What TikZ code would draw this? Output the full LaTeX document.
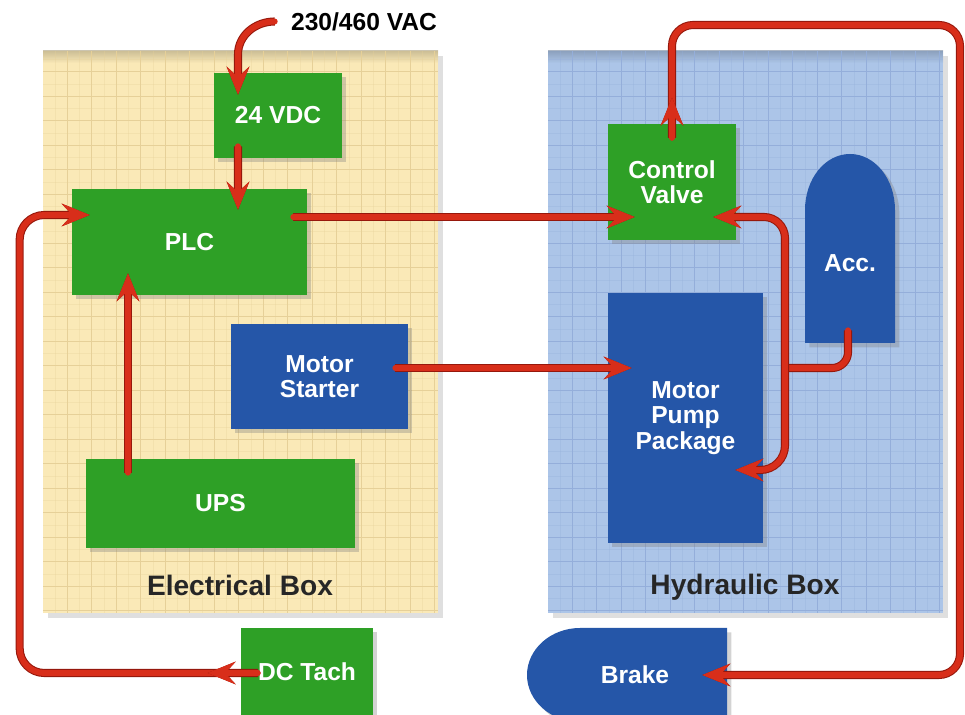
\documentclass[tikz,border=0pt]{standalone}
\usepackage{fontspec}
\setmainfont{Liberation Sans}
\usetikzlibrary{arrows.meta,shadows}

\definecolor{boxgreen}{RGB}{46,160,38}
\definecolor{boxblue}{RGB}{37,86,168}
\definecolor{elecfill}{RGB}{250,233,183}
\definecolor{elecgrid}{RGB}{230,208,152}
\definecolor{hydfill}{RGB}{172,197,232}
\definecolor{hydgrid}{RGB}{148,174,218}
\definecolor{pipered}{RGB}{216,46,26}
\definecolor{pipedark}{RGB}{150,24,12}

\tikzset{
  unittext/.style={inner sep=0pt, align=center, text=white,
    font=\fontsize{14}{14.5}\selectfont\bfseries},
  unit/.style={unittext, drop shadow={shadow xshift=2.5pt, shadow yshift=-2.5pt, opacity=0.35}},
  greenunit/.style={unit, fill=boxgreen},
  blueunit/.style={unit, fill=boxblue},
  boxname/.style={font=\fontsize{16}{16}\selectfont\bfseries, text=black!85},
  panel/.style={fill=#1, drop shadow={shadow xshift=3pt, shadow yshift=-3pt, opacity=0.25}},
  majorline/.style={draw=#1, line width=0.5pt},
  minorline/.style={draw=#1, line width=0.25pt, opacity=0.3},
  pipe/.style={draw=pipered, line width=3.4pt, line cap=round,
    preaction={draw=pipedark, line width=4.6pt}},
}

\begin{document}
\begin{tikzpicture}[x=0.02cm, y=-0.02cm,
  >={Stealth[length=16pt, width=13pt, inset=6pt, line width=0.5pt]}]
  \useasboundingbox (0,0) rectangle (965,715);
  \clip (0,0) rectangle (965,715);

  % the two boxes
  \fill[panel=elecfill] (43,51) rectangle (438,613);
  \shade[top color=elecfill!70!black, bottom color=elecfill, opacity=0.6] (43,51) rectangle (438,63);
  \begin{scope}
    \clip (43,51) rectangle (438,613);
    \foreach \gx in {67,91.5,...,438} {\draw[majorline=elecgrid] (\gx,51) -- (\gx,613);
      \draw[minorline=elecgrid] (\gx-12.25,51) -- (\gx-12.25,613);}
    \foreach \gy in {71.5,96,...,613} {\draw[majorline=elecgrid] (43,\gy) -- (438,\gy);
      \draw[minorline=elecgrid] (43,\gy-12.25) -- (438,\gy-12.25);}
  \end{scope}
  \fill[panel=hydfill] (548,51) rectangle (943,613);
  \shade[top color=hydfill!70!black, bottom color=hydfill, opacity=0.6] (548,51) rectangle (943,63);
  \begin{scope}
    \clip (548,51) rectangle (943,613);
    \foreach \gx in {572,596.5,...,943} {\draw[majorline=hydgrid] (\gx,51) -- (\gx,613);
      \draw[minorline=hydgrid] (\gx-12.25,51) -- (\gx-12.25,613);}
    \foreach \gy in {71.5,96,...,613} {\draw[majorline=hydgrid] (548,\gy) -- (943,\gy);
      \draw[minorline=hydgrid] (548,\gy-12.25) -- (943,\gy-12.25);}
  \end{scope}
  \node[boxname] (elec label) at (240,585) {Electrical Box};
  \node[boxname] (hyd label) at (745,587) {Hydraulic Box};

  % units
  \node[font=\fontsize{14}{14}\selectfont\bfseries, inner sep=0pt] (vac) at (364,21.5) {230/460 VAC};
  \node[greenunit, minimum width=2.56cm, minimum height=1.70cm] (vdc) at (278,115.5) {24 VDC};
  \node[greenunit, minimum width=4.70cm, minimum height=2.12cm] (plc) at (189.5,242) {PLC};
  \node[blueunit, minimum width=3.54cm, minimum height=2.10cm] (starter) at (319.5,376.5) {Motor\\Starter};
  \node[greenunit, minimum width=5.38cm, minimum height=1.78cm] (ups) at (220.5,503.5) {UPS};
  \node[greenunit, minimum width=2.64cm, minimum height=1.76cm] (tach) at (307,672) {DC Tach};
  \node[greenunit, minimum width=2.56cm, minimum height=2.32cm] (valve) at (672,182) {Control\\Valve};
  \node[blueunit, minimum width=3.10cm, minimum height=5.00cm] (pump) at (685.5,418) {Motor\\Pump\\Package};
  \fill[boxblue, drop shadow={shadow xshift=2.5pt, shadow yshift=-2.5pt, opacity=0.35}]
    (805,343) -- (805,210) .. controls (805,179) and (825,154) .. (850,154)
    .. controls (875,154) and (895,179) .. (895,210) -- (895,343) -- cycle;
  \node[unittext, minimum width=1.8cm, minimum height=3.2cm] (acc) at (850,263) {Acc.};
  \fill[boxblue, drop shadow={shadow xshift=2.5pt, shadow yshift=-2.5pt, opacity=0.35}]
    (727,628) -- (580,628) .. controls (551,628) and (527,649) .. (527,675)
    .. controls (527,701) and (551,722) .. (580,722) -- (727,722) -- cycle;
  \node[unittext, minimum width=3.68cm, minimum height=1.88cm] (brake) at (635,675) {Brake};

  % pipes
  \draw[pipe,->] ([shift={(-16,0)}]vac.west) to[out=180,in=90] ([shift={(-40,-18)}]vdc.north)
    -- ([shift={(-40,22)}]vdc.north);
  \draw[pipe,->] ([shift={(-40,-12)}]vdc.south) -- ([shift={(48.5,21)}]plc.north);
  \draw[pipe,->] ([shift={(-92.5,14)}]ups.north) -- ([shift={(-61.5,-22)}]plc.south);
  \draw[pipe,->,rounded corners=14pt] ([shift={(17,1)}]tach.west) -| ([shift={(-52,-27)}]plc.west)
    -- ([shift={(18,-27)}]plc.west);
  \draw[pipe,->] ([shift={(17,1)}]tach.west) -- ([shift={(-33,1)}]tach.west);
  \draw[pipe,->] ([shift={(-14,-25)}]plc.east) -- ([shift={(27,35)}]valve.west);
  \draw[pipe,->] ([shift={(-13,-8.5)}]starter.east) -- ([shift={(24,-50)}]pump.west);

  \coordinate (trunk) at (785,368);
  \draw[pipe,rounded corners=9pt] ([shift={(-2,-13)}]acc.south) |- (trunk);
  \draw[pipe,->,rounded corners=12pt] (trunk) |- ([shift={(-23,35)}]valve.east);
  \draw[pipe,->,rounded corners=14pt] (trunk) |- ([shift={(-28,52)}]pump.east);

  \coordinate (loop) at (960,25);
  \draw[pipe,->,rounded corners=12pt] ([shift={(0,14)}]valve.north) |- (loop)
    |- ([shift={(-25,0)}]brake.east);
  \draw[pipe,->] ([shift={(0,14)}]valve.north) -- ([shift={(0,-26)}]valve.north);
\end{tikzpicture}
\end{document}
